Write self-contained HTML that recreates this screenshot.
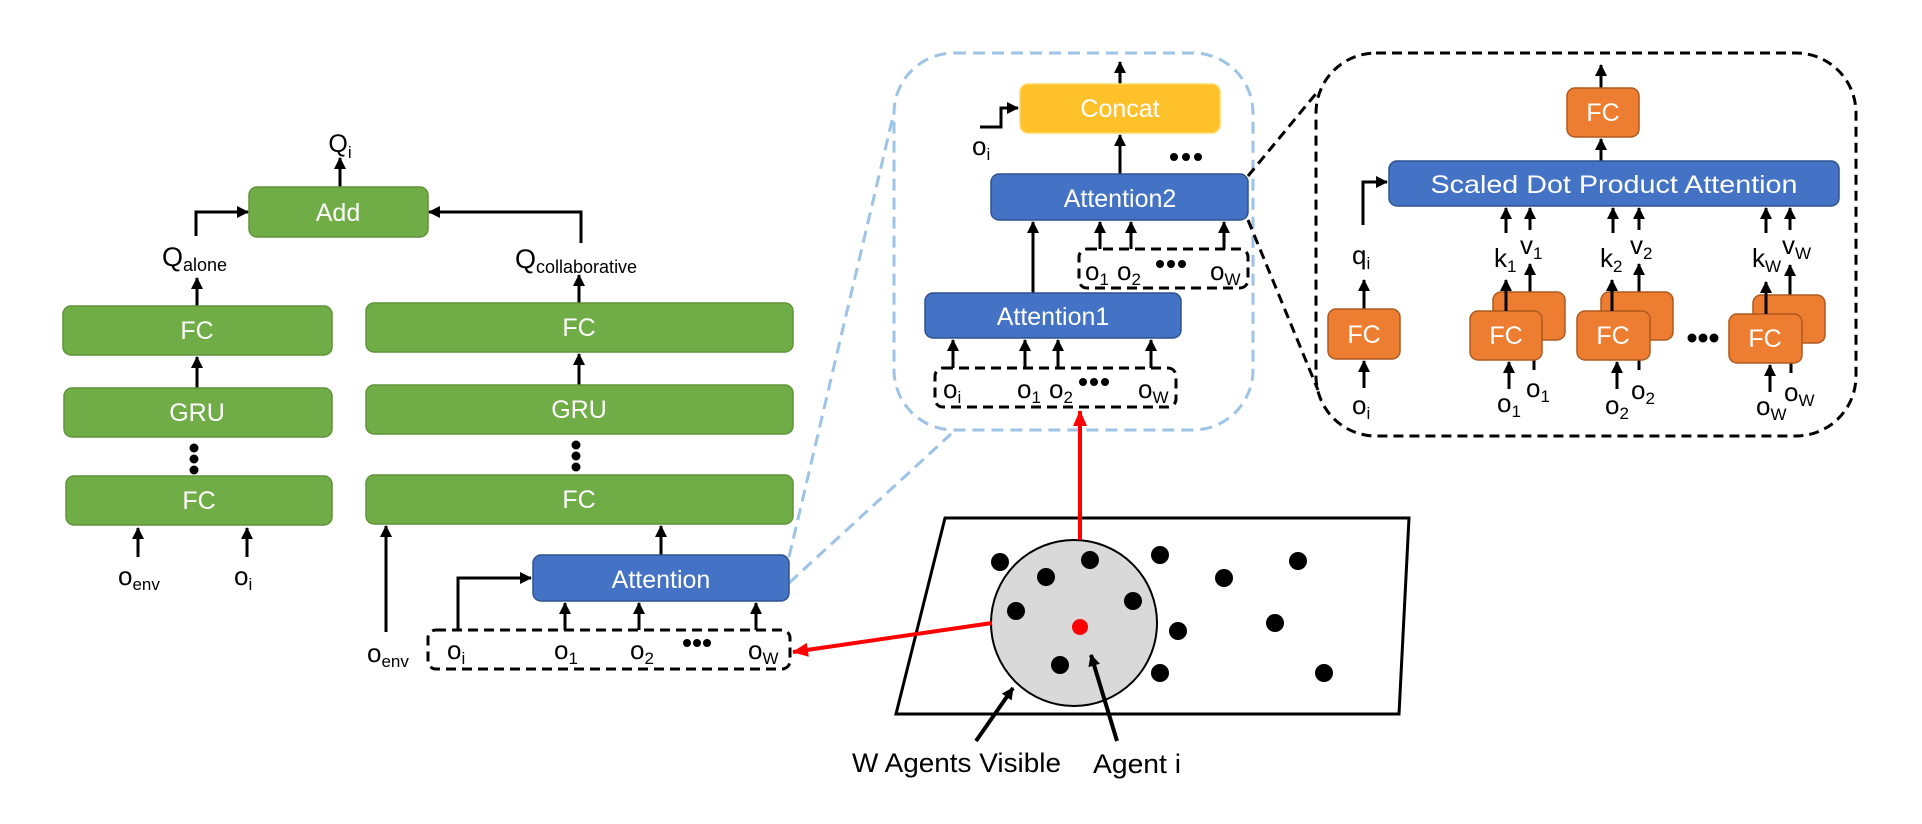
<!DOCTYPE html>
<html><head><meta charset="utf-8"><style>
html,body{margin:0;padding:0;background:#fff;}
svg{display:block;font-family:"Liberation Sans",sans-serif;}
.w{fill:#fff;font-size:25px;text-anchor:middle;}
.b{fill:#000;font-size:25px;text-anchor:middle;}
.ln{stroke:#000;stroke-width:3;fill:none;}
</style></head><body>
<svg width="1922" height="824" viewBox="0 0 1922 824" xmlns="http://www.w3.org/2000/svg">
<defs>
<marker id="a" markerUnits="userSpaceOnUse" markerWidth="12" markerHeight="12" refX="11" refY="6" orient="auto"><path d="M0,0 L12,6 L0,12 z" fill="#000"/></marker>
<marker id="r" markerUnits="userSpaceOnUse" markerWidth="16" markerHeight="14" refX="15" refY="7" orient="auto"><path d="M0,0 L16,7 L0,14 z" fill="#f00"/></marker>
</defs>

<!-- LEFT COLUMN -->
<text class="b" x="340" y="152" font-size="27">Q<tspan dy="6" font-size="17">i</tspan></text>
<line class="ln" x1="340" y1="187" x2="340" y2="158" marker-end="url(#a)"/>
<rect x="249" y="187" width="179" height="50" rx="8" fill="#70AD47" stroke="#5E9438" stroke-width="1.5"/>
<text class="w" x="338" y="221">Add</text>
<polyline class="ln" points="196,236 196,212 248,212" marker-end="url(#a)"/>
<polyline class="ln" points="581,243 581,212 429,212" marker-end="url(#a)"/>
<text x="162" y="266" font-size="27">Q<tspan dy="5" font-size="18">alone</tspan></text>
<text x="515" y="268" font-size="27">Q<tspan dy="5" font-size="18">collaborative</tspan></text>
<line class="ln" x1="197" y1="306" x2="197" y2="278" marker-end="url(#a)"/>
<line class="ln" x1="579" y1="303" x2="579" y2="275" marker-end="url(#a)"/>

<rect x="63" y="306" width="269" height="49" rx="8" fill="#70AD47" stroke="#5E9438" stroke-width="1.5"/>
<text class="w" x="197" y="339">FC</text>
<line class="ln" x1="197" y1="388" x2="197" y2="357" marker-end="url(#a)"/>
<rect x="64" y="388" width="268" height="49" rx="8" fill="#70AD47" stroke="#5E9438" stroke-width="1.5"/>
<text class="w" x="197" y="421">GRU</text>
<circle cx="194" cy="448" r="4.5"/><circle cx="194" cy="459" r="4.5"/><circle cx="194" cy="470" r="4.5"/>
<rect x="66" y="476" width="266" height="49" rx="8" fill="#70AD47" stroke="#5E9438" stroke-width="1.5"/>
<text class="w" x="199" y="509">FC</text>
<line class="ln" x1="138" y1="557" x2="138" y2="528" marker-end="url(#a)"/>
<line class="ln" x1="247" y1="557" x2="247" y2="528" marker-end="url(#a)"/>
<text x="118" y="585" font-size="26">o<tspan dy="5" font-size="17">env</tspan></text>
<text x="234" y="585" font-size="26">o<tspan dy="5" font-size="17">i</tspan></text>

<!-- RIGHT GREEN COLUMN -->
<rect x="366" y="303" width="427" height="49" rx="8" fill="#70AD47" stroke="#5E9438" stroke-width="1.5"/>
<text class="w" x="579" y="336">FC</text>
<line class="ln" x1="579" y1="385" x2="579" y2="354" marker-end="url(#a)"/>
<rect x="366" y="385" width="427" height="49" rx="8" fill="#70AD47" stroke="#5E9438" stroke-width="1.5"/>
<text class="w" x="579" y="418">GRU</text>
<circle cx="576" cy="445" r="4.5"/><circle cx="576" cy="456" r="4.5"/><circle cx="576" cy="467" r="4.5"/>
<rect x="366" y="475" width="427" height="49" rx="8" fill="#70AD47" stroke="#5E9438" stroke-width="1.5"/>
<text class="w" x="579" y="508">FC</text>
<line class="ln" x1="386" y1="632" x2="386" y2="526" marker-end="url(#a)"/>
<text x="367" y="662" font-size="26">o<tspan dy="5" font-size="17">env</tspan></text>
<line class="ln" x1="661" y1="555" x2="661" y2="526" marker-end="url(#a)"/>

<!-- blue dashed zoom lines -->
<line x1="789" y1="557" x2="894" y2="112" stroke="#9DC3E6" stroke-width="3" stroke-dasharray="12,7"/>
<line x1="789" y1="583" x2="951" y2="434" stroke="#9DC3E6" stroke-width="3" stroke-dasharray="12,7"/>

<rect x="533" y="555" width="256" height="46" rx="8" fill="#4472C4" stroke="#2F528F" stroke-width="1.5"/>
<text class="w" x="661" y="588">Attention</text>
<polyline class="ln" points="458,630 458,578 531,578" marker-end="url(#a)"/>
<rect x="428" y="630" width="362" height="39" rx="8" fill="none" stroke="#000" stroke-width="3" stroke-dasharray="10,6"/>
<text x="447" y="659" font-size="26">o<tspan dy="5" font-size="17">i</tspan></text>
<text x="554" y="659" font-size="26">o<tspan dy="5" font-size="17">1</tspan></text>
<text x="630" y="659" font-size="26">o<tspan dy="5" font-size="17">2</tspan></text>
<circle cx="687" cy="643" r="4"/><circle cx="697" cy="643" r="4"/><circle cx="707" cy="643" r="4"/>
<text x="748" y="659" font-size="26">o<tspan dy="5" font-size="17">W</tspan></text>
<line class="ln" x1="565" y1="630" x2="565" y2="603" marker-end="url(#a)"/>
<line class="ln" x1="639" y1="630" x2="639" y2="603" marker-end="url(#a)"/>
<line class="ln" x1="756" y1="630" x2="756" y2="603" marker-end="url(#a)"/>

<!-- MIDDLE ZOOM BOX -->
<rect x="894" y="53" width="359" height="377" rx="60" fill="none" stroke="#9DC3E6" stroke-width="3" stroke-dasharray="12,7"/>
<line class="ln" x1="1120" y1="84" x2="1120" y2="62" marker-end="url(#a)"/>
<rect x="1020" y="84" width="200" height="49" rx="8" fill="#FFC12A" stroke="#FFD966" stroke-width="1.5"/>
<text class="w" x="1120" y="117">Concat</text>
<polyline class="ln" points="980,127 1001,127 1001,108 1018,108" marker-end="url(#a)"/>
<text x="972" y="155" font-size="26">o<tspan dy="5" font-size="17">i</tspan></text>
<circle cx="1174" cy="157" r="4"/><circle cx="1186" cy="157" r="4"/><circle cx="1198" cy="157" r="4"/>
<line class="ln" x1="1120" y1="174" x2="1120" y2="135" marker-end="url(#a)"/>
<rect x="991" y="174" width="257" height="46" rx="8" fill="#4472C4" stroke="#2F528F" stroke-width="1.5"/>
<text class="w" x="1120" y="207">Attention2</text>
<line class="ln" x1="1033" y1="293" x2="1033" y2="222" marker-end="url(#a)"/>
<rect x="1079" y="249" width="169" height="39" rx="8" fill="none" stroke="#000" stroke-width="3" stroke-dasharray="10,6"/>
<text x="1085" y="280" font-size="26">o<tspan dy="5" font-size="17">1</tspan></text>
<text x="1117" y="280" font-size="26">o<tspan dy="5" font-size="17">2</tspan></text>
<circle cx="1160" cy="264" r="4"/><circle cx="1171" cy="264" r="4"/><circle cx="1182" cy="264" r="4"/>
<text x="1210" y="280" font-size="26">o<tspan dy="5" font-size="17">W</tspan></text>
<line class="ln" x1="1100" y1="249" x2="1100" y2="222" marker-end="url(#a)"/>
<line class="ln" x1="1131" y1="249" x2="1131" y2="222" marker-end="url(#a)"/>
<line class="ln" x1="1224" y1="249" x2="1224" y2="222" marker-end="url(#a)"/>
<rect x="925" y="293" width="256" height="45" rx="8" fill="#4472C4" stroke="#2F528F" stroke-width="1.5"/>
<text class="w" x="1053" y="325">Attention1</text>
<rect x="935" y="368" width="241" height="39" rx="8" fill="none" stroke="#000" stroke-width="3" stroke-dasharray="10,6"/>
<text x="943" y="398" font-size="26">o<tspan dy="5" font-size="17">i</tspan></text>
<text x="1017" y="398" font-size="26">o<tspan dy="5" font-size="17">1</tspan></text>
<text x="1049" y="398" font-size="26">o<tspan dy="5" font-size="17">2</tspan></text>
<circle cx="1083" cy="382" r="4"/><circle cx="1094" cy="382" r="4"/><circle cx="1105" cy="382" r="4"/>
<text x="1138" y="398" font-size="26">o<tspan dy="5" font-size="17">W</tspan></text>
<line class="ln" x1="953" y1="368" x2="953" y2="340" marker-end="url(#a)"/>
<line class="ln" x1="1025" y1="368" x2="1025" y2="340" marker-end="url(#a)"/>
<line class="ln" x1="1058" y1="368" x2="1058" y2="340" marker-end="url(#a)"/>
<line class="ln" x1="1151" y1="368" x2="1151" y2="340" marker-end="url(#a)"/>

<!-- black dashed zoom lines -->
<line x1="1248" y1="176" x2="1319" y2="90" stroke="#000" stroke-width="3" stroke-dasharray="10,6"/>
<line x1="1248" y1="220" x2="1318" y2="390" stroke="#000" stroke-width="3" stroke-dasharray="10,6"/>

<!-- RIGHT ZOOM BOX -->
<rect x="1316" y="53" width="540" height="383" rx="60" fill="none" stroke="#000" stroke-width="3" stroke-dasharray="10,6"/>
<line class="ln" x1="1601" y1="88" x2="1601" y2="65" marker-end="url(#a)"/>
<rect x="1567" y="88" width="72" height="49" rx="8" fill="#ED7D31" stroke="#AE5A21" stroke-width="1.5"/>
<text class="w" x="1603" y="121">FC</text>
<line class="ln" x1="1601" y1="161" x2="1601" y2="139" marker-end="url(#a)"/>
<rect x="1389" y="161" width="450" height="45" rx="8" fill="#4472C4" stroke="#2F528F" stroke-width="1.5"/>
<text class="w" x="1614" y="193" textLength="367" lengthAdjust="spacingAndGlyphs">Scaled Dot Product Attention</text>
<polyline class="ln" points="1363,225 1363,182 1387,182" marker-end="url(#a)"/>
<text x="1352" y="264" font-size="26">q<tspan dy="5" font-size="17">i</tspan></text>
<line class="ln" x1="1364" y1="309" x2="1364" y2="280" marker-end="url(#a)"/>
<rect x="1328" y="309" width="72" height="50" rx="8" fill="#ED7D31" stroke="#AE5A21" stroke-width="1.5"/>
<text class="w" x="1364" y="343">FC</text>
<line class="ln" x1="1364" y1="388" x2="1364" y2="361" marker-end="url(#a)"/>
<text x="1352" y="414" font-size="26">o<tspan dy="5" font-size="17">i</tspan></text>

<!-- pair 1 -->
<g>
<line class="ln" x1="1530" y1="292" x2="1530" y2="264" marker-end="url(#a)"/>
<rect x="1493" y="292" width="72" height="48" rx="8" fill="#ED7D31" stroke="#AE5A21" stroke-width="1.5"/>
<line class="ln" x1="1534" y1="360" x2="1534" y2="370"/>
<rect x="1470" y="311" width="72" height="49" rx="8" fill="#ED7D31" stroke="#AE5A21" stroke-width="1.5"/>
<text class="w" x="1506" y="344">FC</text>
<line class="ln" x1="1506" y1="311" x2="1506" y2="280" marker-end="url(#a)"/>
<text x="1494" y="267" font-size="26">k<tspan dy="5" font-size="17">1</tspan></text>
<text x="1520" y="254" font-size="26">v<tspan dy="5" font-size="17">1</tspan></text>
<line class="ln" x1="1506" y1="233" x2="1506" y2="208" marker-end="url(#a)"/>
<line class="ln" x1="1530" y1="230" x2="1530" y2="208" marker-end="url(#a)"/>
<line class="ln" x1="1509" y1="389" x2="1509" y2="362" marker-end="url(#a)"/>
<text x="1497" y="412" font-size="26">o<tspan dy="5" font-size="17">1</tspan></text>
<text x="1526" y="397" font-size="26">o<tspan dy="5" font-size="17">1</tspan></text>
</g>
<!-- pair 2 -->
<g>
<line class="ln" x1="1639" y1="292" x2="1639" y2="264" marker-end="url(#a)"/>
<rect x="1601" y="292" width="72" height="48" rx="8" fill="#ED7D31" stroke="#AE5A21" stroke-width="1.5"/>
<line class="ln" x1="1639" y1="360" x2="1639" y2="370"/>
<rect x="1577" y="311" width="73" height="49" rx="8" fill="#ED7D31" stroke="#AE5A21" stroke-width="1.5"/>
<text class="w" x="1613" y="344">FC</text>
<line class="ln" x1="1612" y1="311" x2="1612" y2="280" marker-end="url(#a)"/>
<text x="1600" y="267" font-size="26">k<tspan dy="5" font-size="17">2</tspan></text>
<text x="1630" y="254" font-size="26">v<tspan dy="5" font-size="17">2</tspan></text>
<line class="ln" x1="1613" y1="233" x2="1613" y2="208" marker-end="url(#a)"/>
<line class="ln" x1="1639" y1="230" x2="1639" y2="208" marker-end="url(#a)"/>
<line class="ln" x1="1617" y1="389" x2="1617" y2="362" marker-end="url(#a)"/>
<text x="1605" y="414" font-size="26">o<tspan dy="5" font-size="17">2</tspan></text>
<text x="1631" y="399" font-size="26">o<tspan dy="5" font-size="17">2</tspan></text>
</g>
<circle cx="1692" cy="338" r="4.5"/><circle cx="1703" cy="338" r="4.5"/><circle cx="1714" cy="338" r="4.5"/>
<!-- pair W -->
<g>
<line class="ln" x1="1790" y1="295" x2="1790" y2="265" marker-end="url(#a)"/>
<rect x="1753" y="295" width="72" height="48" rx="8" fill="#ED7D31" stroke="#AE5A21" stroke-width="1.5"/>
<line class="ln" x1="1791" y1="363" x2="1791" y2="373"/>
<rect x="1729" y="314" width="73" height="49" rx="8" fill="#ED7D31" stroke="#AE5A21" stroke-width="1.5"/>
<text class="w" x="1765" y="347">FC</text>
<line class="ln" x1="1766" y1="314" x2="1766" y2="282" marker-end="url(#a)"/>
<text x="1752" y="267" font-size="26">k<tspan dy="5" font-size="17">W</tspan></text>
<text x="1782" y="254" font-size="26">v<tspan dy="5" font-size="17">W</tspan></text>
<line class="ln" x1="1766" y1="233" x2="1766" y2="208" marker-end="url(#a)"/>
<line class="ln" x1="1790" y1="230" x2="1790" y2="208" marker-end="url(#a)"/>
<line class="ln" x1="1770" y1="392" x2="1770" y2="365" marker-end="url(#a)"/>
<text x="1756" y="415" font-size="26">o<tspan dy="5" font-size="17">W</tspan></text>
<text x="1784" y="401" font-size="26">o<tspan dy="5" font-size="17">W</tspan></text>
</g>

<!-- ENVIRONMENT -->
<polygon points="945,518 1409,518 1399,714 896,714" fill="none" stroke="#000" stroke-width="3"/>
<circle cx="1074" cy="623" r="83" fill="#D9D9D9" stroke="#000" stroke-width="2"/>
<g fill="#000">
<circle cx="1000" cy="562" r="9"/><circle cx="1090" cy="560" r="9"/><circle cx="1046" cy="577" r="9"/>
<circle cx="1133" cy="601" r="9"/><circle cx="1016" cy="611" r="9"/><circle cx="1060" cy="665" r="9"/>
<circle cx="1160" cy="555" r="9"/><circle cx="1224" cy="578" r="9"/><circle cx="1298" cy="561" r="9"/>
<circle cx="1178" cy="631" r="9"/><circle cx="1275" cy="623" r="9"/><circle cx="1160" cy="673" r="9"/>
<circle cx="1324" cy="673" r="9"/>
</g>
<circle cx="1080" cy="627" r="8" fill="#f00"/>
<line x1="1080" y1="540" x2="1080" y2="411" stroke="#f00" stroke-width="4" marker-end="url(#r)"/>
<line x1="992" y1="623" x2="793" y2="652" stroke="#f00" stroke-width="4" marker-end="url(#r)"/>
<line x1="976" y1="741" x2="1013" y2="688" stroke="#000" stroke-width="4" marker-end="url(#a)"/>
<line x1="1117" y1="741" x2="1091" y2="655" stroke="#000" stroke-width="4" marker-end="url(#a)"/>
<text x="852" y="772" font-size="27" textLength="209" lengthAdjust="spacingAndGlyphs">W Agents Visible</text>
<text x="1093" y="773" font-size="27" textLength="88" lengthAdjust="spacingAndGlyphs">Agent i</text>
</svg>
</body></html>
